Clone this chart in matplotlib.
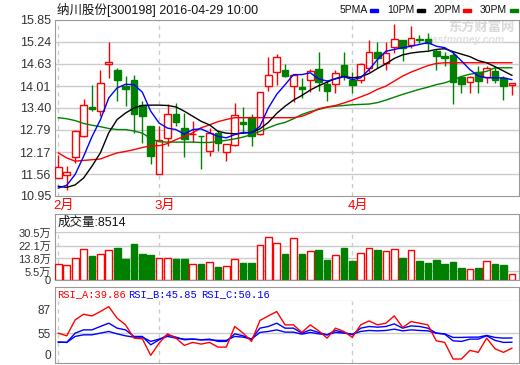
import numpy as np
import matplotlib
matplotlib.use('Agg')
import matplotlib.pyplot as plt
from matplotlib.patches import Rectangle

plt.rcParams['font.family'] = ['Liberation Sans', 'Noto Sans CJK SC']

# ---- data (55 trading days, 2016-02-05 .. 2016-04-29) ----
opens = [11.45, 11.54, 12.04, 12.61, 13.42, 13.31, 14.63, 14.47, 14.01, 14.19,
         13.47, 12.91, 11.56, 12.57, 13.22, 12.85, 12.68, 12.63, 12.19, 12.71,
         12.18, 12.36, 13.01, 13.15, 12.68, 14.01, 14.41, 14.45, 14.01, 13.99,
         14.19, 14.49, 14.07, 14.07, 14.60, 14.18, 14.19, 14.50, 14.97, 14.66,
         15.11, 15.28, 15.15, 15.32, 15.31, 15.00, 14.86, 14.88, 14.27, 14.12,
         14.40, 14.27, 14.43, 14.24, 14.03]
highs = [12.10, 11.78, 12.79, 13.65, 14.05, 14.47, 15.25, 14.52, 14.29, 14.31,
         13.59, 12.91, 12.89, 13.50, 13.53, 13.26, 13.03, 12.63, 12.85, 12.80,
         12.40, 13.53, 13.42, 13.22, 13.85, 14.82, 14.89, 14.63, 14.33, 14.24,
         14.49, 14.97, 14.19, 14.45, 14.97, 14.40, 14.64, 15.29, 15.25, 15.25,
         15.73, 15.28, 15.68, 15.42, 15.48, 15.05, 14.97, 14.95, 14.29, 14.29,
         14.57, 14.57, 14.57, 14.29, 14.10]
lows = [11.45, 11.12, 11.87, 12.59, 13.31, 13.19, 14.24, 13.59, 13.45, 12.71,
        12.43, 11.85, 11.56, 12.33, 12.91, 12.04, 12.45, 11.70, 12.05, 12.19,
        11.92, 12.33, 12.71, 12.33, 12.66, 13.87, 14.03, 14.27, 13.56, 13.68,
        13.84, 13.87, 13.59, 13.82, 14.17, 13.81, 14.10, 14.39, 14.52, 14.45,
        14.94, 14.71, 15.08, 15.20, 15.01, 14.47, 14.57, 13.50, 13.82, 13.82,
        13.82, 14.10, 14.10, 13.62, 13.75]
closes = [11.76, 11.62, 12.77, 13.47, 13.38, 14.10, 14.69, 14.18, 13.93, 13.22,
          13.17, 12.05, 12.52, 13.24, 13.01, 12.54, 12.69, 12.62, 12.71, 12.43,
          12.40, 13.20, 12.95, 12.61, 13.85, 14.31, 14.83, 14.29, 14.31, 13.93,
          14.43, 14.12, 13.87, 14.38, 14.29, 14.04, 14.63, 14.97, 14.80, 14.94,
          15.33, 15.06, 15.34, 15.30, 15.22, 14.84, 14.78, 14.12, 14.08, 14.27,
          14.15, 14.52, 14.18, 14.01, 14.10]

ma5 = [11.17, 11.25, 11.55, 12.05, 12.60, 13.07, 13.68, 13.96, 14.06, 14.05,
       13.84, 13.31, 12.98, 12.84, 12.80, 12.67, 12.80, 12.82, 12.71, 12.61,
       12.57, 12.66, 12.72, 12.71, 12.89, 13.40, 13.78, 14.05, 14.33, 14.33,
       14.38, 14.21, 14.15, 14.21, 14.27, 14.19, 14.24, 14.47, 14.75, 14.98,
       15.03, 15.08, 15.12, 15.17, 15.22, 15.12, 15.08, 14.94, 14.71, 14.47,
       14.29, 14.24, 14.24, 14.24, 14.19]
ma10 = [11.22, 11.19, 11.26, 11.45, 11.78, 12.15, 12.71, 13.08, 13.26, 13.40,
        13.47, 13.48, 13.48, 13.47, 13.43, 13.31, 13.17, 13.03, 12.93, 12.75,
        12.70, 12.68, 12.70, 12.72, 12.82, 13.00, 13.25, 13.45, 13.62, 13.75,
        13.90, 14.02, 14.12, 14.22, 14.28, 14.24, 14.27, 14.36, 14.50, 14.63,
        14.78, 14.88, 14.93, 14.96, 14.98, 15.03, 15.05, 14.97, 14.90, 14.83,
        14.72, 14.66, 14.55, 14.43, 14.31]
ma20 = [12.15, 12.01, 11.92, 11.94, 11.96, 11.98, 12.07, 12.15, 12.19, 12.24,
        12.30, 12.35, 12.35, 12.41, 12.52, 12.61, 12.71, 12.85, 12.93, 13.02,
        13.08, 13.13, 13.13, 13.13, 13.13, 13.13, 13.13, 13.13, 13.13, 13.17,
        13.26, 13.38, 13.43, 13.47, 13.54, 13.62, 13.71, 13.80, 13.92, 14.01,
        14.15, 14.29, 14.40, 14.49, 14.58, 14.64, 14.66, 14.66, 14.66, 14.66,
        14.66, 14.66, 14.66, 14.66, 14.66]
ma30 = [13.13, 13.10, 13.05, 12.97, 12.92, 12.88, 12.83, 12.80, 12.80, 12.76,
        12.70, 12.55, 12.46, 12.45, 12.45, 12.45, 12.45, 12.44, 12.44, 12.47,
        12.50, 12.54, 12.59, 12.66, 12.75, 12.85, 12.94, 13.00, 13.10, 13.22,
        13.30, 13.36, 13.42, 13.45, 13.47, 13.49, 13.50, 13.51, 13.55, 13.62,
        13.70, 13.78, 13.85, 13.92, 13.98, 14.05, 14.10, 14.18, 14.28, 14.34,
        14.38, 14.42, 14.52, 14.52, 14.52]

# volume in 万
volume = [10.2, 9.6, 13.9, 19.6, 15.4, 16.4, 19.0, 20.5, 13.4, 23.0,
          16.8, 16.0, 13.9, 13.9, 13.4, 13.4, 10.2, 10.2, 11.3, 8.3,
          8.7, 13.2, 10.7, 11.1, 22.2, 27.3, 23.5, 16.6, 26.7, 16.6,
          18.3, 19.2, 12.8, 15.8, 20.5, 12.2, 17.1, 20.3, 19.2, 18.3,
          19.6, 14.1, 19.0, 12.2, 10.9, 12.8, 10.2, 11.5, 7.7, 6.8,
          7.7, 11.9, 10.2, 9.6, 3.6]

rsi_a = [55, 52.3, 68.3, 74, 72.3, 76.7, 81.7, 70, 63.3, 50,
         49.3, 32.7, 45, 54.3, 50, 42.7, 45.7, 44, 45.7, 41,
         41, 61.7, 55, 46.7, 67.7, 72.3, 76.7, 63.3, 63.3, 55.7,
         63.3, 57.3, 50, 60, 56.7, 50.7, 63.3, 67.3, 63.3, 65,
         72.3, 60.7, 66.7, 65, 63.3, 47.3, 45.7, 29, 29, 37.7,
         35.7, 50, 39.3, 35.7, 39.86]
rsi_b = [46, 45.7, 55, 58.3, 58.3, 61.7, 65, 60, 58.3, 51.7,
         51.7, 43.3, 48.3, 53.3, 51, 48.3, 49, 48.3, 49, 46.7,
         46.7, 54.3, 52.3, 49, 60, 61.7, 65, 60, 60, 55,
         58.3, 55.7, 53.3, 57.7, 55.7, 53.3, 60, 61.7, 61, 61.7,
         64.3, 60, 62.3, 61.7, 60, 55, 54, 47.3, 46.7, 49,
         49, 52.3, 47.7, 45.7, 45.85]
rsi_c = [46, 45.7, 51.7, 53.3, 53.3, 55, 56.7, 54.3, 52.3, 51,
         51, 46.7, 49, 51.7, 50, 49, 49, 48.3, 48.3, 47.7,
         47.7, 51.7, 51, 49, 55.7, 56.7, 58.3, 56, 56, 54,
         55.7, 54.3, 53.3, 55.7, 55, 54, 56.7, 57.7, 57.3, 57.7,
         59, 57.3, 58.3, 57.7, 57.3, 55, 54.3, 50.7, 50.7, 51,
         51, 52.7, 50.7, 50, 50.16]

month_idx = [0, 12, 35]
month_labels = ['2月', '3月', '4月']
price_ticks = [10.95, 11.56, 12.17, 12.79, 13.40, 14.01, 14.63, 15.24, 15.85]
vol_ticks = [0, 5.5, 13.8, 22.1, 30.5]
vol_labels = ['0', '5.5万', '13.8万', '22.1万', '30.5万']

# ---- drawing ----
W, H = 520, 365
RED, GREEN, BLUE = '#ff0000', '#008000', '#0000ff'
GRID, FRAME = '#cccccc', '#999999'

fig = plt.figure(figsize=(W / 100, H / 100), dpi=100)
fig.patch.set_facecolor('white')


def px_axes(x0, y0, x1, y1):
    a = fig.add_axes([x0 / W, 1 - y1 / H, (x1 - x0) / W, (y1 - y0) / H])
    for s in a.spines.values():
        s.set_color(FRAME)
    a.set_xticks([])
    return a


o = np.array(opens); c = np.array(closes)
x = np.arange(len(c))
up = c >= o
edge = np.where(up, RED, GREEN)
face = np.where(up, 'white', GREEN)
XLIM = (-0.4, 54.85)

# main price panel
ax = px_axes(55, 20, 519, 196)
ax.set_xlim(XLIM)
ax.set_ylim(10.95, 15.85)
ax.set_yticks(price_ticks)
ax.set_yticklabels(['%.2f' % t for t in price_ticks])
ax.tick_params(axis='y', length=0, pad=3, labelsize=9, labelcolor='#333333')
for t in price_ticks[1:-1]:
    ax.axhline(t, color=GRID, lw=1, zorder=0)
for m in month_idx:
    ax.axvline(m, color=GRID, lw=1, ls=(0, (3, 3)), zorder=0)
# watermark
ax.text(0.848, 0.955, '东方财富网', transform=ax.transAxes, fontsize=9.5,
        fontweight='bold', color='#d8d8d8', va='center', zorder=0.5)
ax.text(0.80, 0.885, 'eastmoney.com', transform=ax.transAxes, fontsize=7.5,
        fontweight='bold', style='italic', color='#e0e0e0', va='center', zorder=0.5)

ax.vlines(x, lows, highs, colors=edge, lw=1, zorder=3)
ax.bar(x, c - o, bottom=o, width=0.8, color=face, edgecolor=edge, lw=1, zorder=4)
ax.plot(x, ma30, color=GREEN, lw=1, zorder=5)
ax.plot(x, ma20, color=RED, lw=1, zorder=5)
ax.plot(x, ma10, color='black', lw=1, zorder=5)
ax.plot(x, ma5, color=BLUE, lw=1, zorder=5)

for m, lab in zip(month_idx, month_labels):
    ax.text(m - 0.6, -0.057, lab, transform=ax.get_xaxis_transform(),
            color=RED, fontsize=9.5, va='center', ha='left')

# title + legend
fig.text(57 / W, 1 - 10 / H, '纳川股份[300198] 2016-04-29 10:00',
         fontsize=9, va='center', color='#111111')
for lab, tx, col, dx in [('5PMA', 340, BLUE, 370), ('10PM', 387, 'black', 417),
                         ('20PM', 433, RED, 463), ('30PM', 480, GREEN, 510)]:
    fig.text(tx / W, 1 - 10 / H, lab, fontsize=7.5, va='center', color='#111111')
    fig.add_artist(Rectangle((dx / W, 1 - 11.5 / H), 8 / W, 3 / H,
                             transform=fig.transFigure, color=col))

# volume panel
axvt = px_axes(55, 214, 519, 232)
axvt.set_yticks([])
axvt.text(0.005, 0.5, '成交量:8514', transform=axvt.transAxes,
          fontsize=9, va='center', color='#111111')

axv = px_axes(55, 232, 519, 280)
axv.spines['top'].set_visible(False)
axv.set_xlim(XLIM)
axv.set_ylim(0, 30.8)
axv.set_yticks(vol_ticks)
axv.set_yticklabels(vol_labels)
axv.tick_params(axis='y', length=0, pad=3, labelsize=8, labelcolor='#333333')
for t in vol_ticks[1:]:
    axv.axhline(t, color=GRID, lw=1, zorder=0)
for m in month_idx:
    axv.axvline(m, color=GRID, lw=1, ls=(0, (3, 3)), zorder=0)
axv.bar(x, volume, width=0.8, color=face, edgecolor=edge, lw=1, zorder=3)

# RSI panel
axrt = px_axes(55, 287, 519, 301)
axrt.set_yticks([])
for lab, tx, col in [('RSI_A:39.86', 57, RED), ('RSI_B:45.85', 128, BLUE),
                     ('RSI_C:50.16', 201, BLUE)]:
    fig.text(tx / W, 1 - 294.5 / H, lab, fontsize=7.5, family='Liberation Mono',
             color=col, va='center')

axr = px_axes(55, 301, 519, 363)
axr.spines['top'].set_visible(False)
axr.set_xlim(XLIM)
axr.set_ylim(25, 87.3)
axr.set_yticks([33.3, 55, 78.3])
axr.set_yticklabels(['0', '55', '87'])
axr.tick_params(axis='y', length=0, pad=3, labelsize=8.5, labelcolor='#333333')
axr.axhline(55, color=GRID, lw=1, zorder=0)
for m in month_idx:
    axr.axvline(m, color=GRID, lw=1, ls=(0, (3, 3)), zorder=0)
axr.plot(x, rsi_c, color=BLUE, lw=1)
axr.plot(x, rsi_b, color=BLUE, lw=1)
axr.plot(x, rsi_a, color=RED, lw=1)

fig.savefig('out.png', dpi=100)
